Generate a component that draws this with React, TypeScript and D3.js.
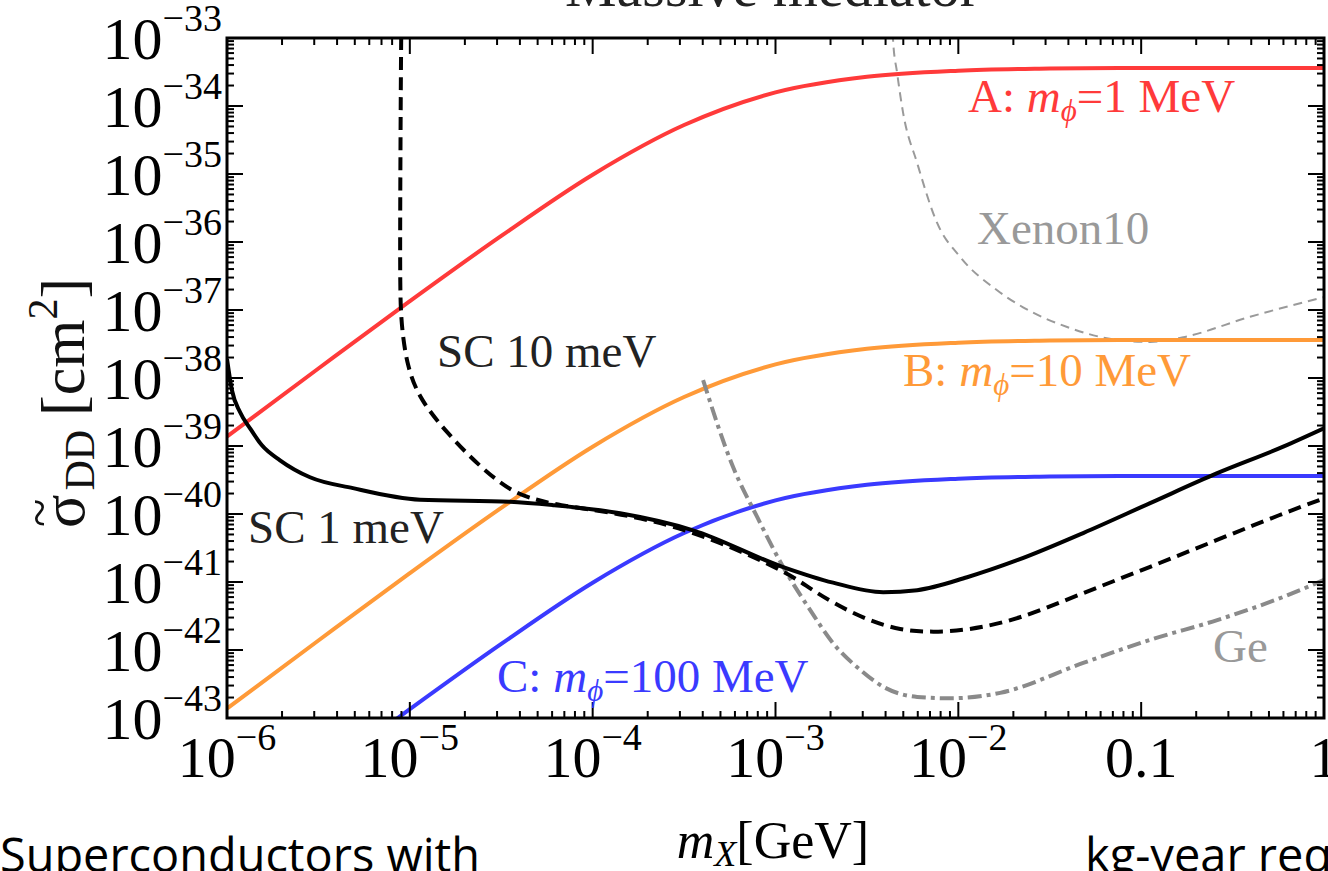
import React from "react";
import * as d3 from "d3";

// log10 values
const massExp = [-6, -5.5, -5, -4.5, -4, -3.5, -3, -2.5, -2, -1.5, -1, 0];
const sigmaA = [-38.86, -37.86, -36.87, -35.91, -35.01, -34.28, -33.8, -33.57, -33.48, -33.45, -33.44, -33.44];
const sigmaB = [-42.86, -41.86, -40.87, -39.91, -39.01, -38.28, -37.8, -37.57, -37.48, -37.45, -37.44, -37.44];
const sigmaC = [-44.86, -43.86, -42.87, -41.91, -41.01, -40.28, -39.8, -39.57, -39.48, -39.45, -39.44, -39.44];

const sc1Mass = [-6.0, -5.973, -5.929, -5.874, -5.809, -5.71, -5.546, -5.311, -4.944, -4.452, -4.217, -3.85, -3.451, -2.958, -2.685, -2.411, -2.225, -1.952, -1.678, -1.317, -0.951, -0.584, -0.223, 0.0];
const sc1Sigma = [-37.72, -38.18, -38.5, -38.74, -38.99, -39.21, -39.46, -39.62, -39.79, -39.82, -39.87, -39.99, -40.24, -40.78, -41.01, -41.15, -41.12, -40.93, -40.68, -40.28, -39.84, -39.4, -39.01, -38.74];

const sc10Mass = [-5.044, -5.048, -5.052, -5.054, -5.048, -5.015, -4.944, -4.796, -4.616, -4.435, -4.304, -4.217, -3.85, -3.451, -2.958, -2.82, -2.685, -2.499, -2.318, -2.138, -1.952, -1.678, -1.317, -0.951, -0.584, -0.223, 0.0];
const sc10Sigma = [-32.4, -33.0, -35.0, -36.6, -37.2, -37.84, -38.32, -38.81, -39.31, -39.69, -39.79, -39.86, -39.99, -40.24, -40.82, -41.08, -41.31, -41.56, -41.71, -41.74, -41.71, -41.56, -41.16, -40.78, -40.38, -39.99, -39.77];

const geMass = [-3.396, -3.232, -3.101, -2.958, -2.811, -2.685, -2.537, -2.411, -2.225, -2.045, -1.771, -1.317, -0.951, -0.584, -0.223, 0.0];
const geSigma = [-38.03, -39.31, -40.04, -40.78, -41.41, -41.9, -42.29, -42.54, -42.69, -42.71, -42.63, -42.19, -41.85, -41.56, -41.22, -40.97];

const xenonMass = [-2.362, -2.357, -2.335, -2.302, -2.225, -2.116, -1.99, -1.788, -1.646, -1.405, -1.131, -0.951, -0.77, -0.404, 0.0];
const xenonSigma = [-32.7, -33.03, -33.51, -34.1, -34.84, -35.72, -36.22, -36.71, -36.96, -37.25, -37.44, -37.47, -37.4, -37.1, -36.81];

const xTickExp = [-6, -5, -4, -3, -2, -1, 0];
const xTickText = ["10|−6", "10|−5", "10|−4", "10|−3", "10|−2", "0.1", "1"];
const yTickExp = [-33, -34, -35, -36, -37, -38, -39, -40, -41, -42, -43];

const W = 1328;
const H = 871;
const left = 227, right = 1324, top = 38, bottom = 718;
const serif = "'Liberation Serif', 'Times New Roman', serif";
const comic = "'Comic Sans MS', 'Open Sans', sans-serif";

const x = d3.scaleLog().domain([1e-6, 1]).range([left, right]);
const y = d3.scaleLog().domain([1e-43, 1e-33]).range([bottom, top]);

const makeLine = (curve: d3.CurveFactory) =>
  d3
    .line<[number, number]>()
    .x((d) => x(Math.pow(10, d[0])))
    .y((d) => y(Math.pow(10, d[1])))
    .curve(curve);

const smooth = makeLine(d3.curveMonotoneX);
const bent = makeLine(d3.curveBasis);

const pairs = (a: number[], b: number[]) => a.map((v, i) => [v, b[i]] as [number, number]);

function minorTicks(lo: number, hi: number) {
  const out: number[] = [];
  for (let e = lo; e < hi; e++) {
    for (let j = 2; j <= 9; j++) out.push(j * Math.pow(10, e));
  }
  return out;
}

function PhiLabel({ x0, y0, color, head, tail }: { x0: number; y0: number; color: string; head: string; tail: string }) {
  return (
    <text x={x0} y={y0} fill={color}>
      {head}
      <tspan fontStyle="italic">m</tspan>
      <tspan fontStyle="italic" fontSize={31} dy={9}>ϕ</tspan>
      <tspan dy={-9}>{tail}</tspan>
    </text>
  );
}

export default function App() {
  const xMinor = minorTicks(-6, 0);
  const yMinor = minorTicks(-43, -33);
  const major = 16;
  const minor = 7;

  return (
    <div style={{ position: "absolute", left: 0, top: 0 }}>
      <style>{`body{margin:0}`}</style>
      <svg width={W} height={H} style={{ display: "block", background: "#fff" }}>
        <defs>
          <clipPath id="plot">
            <rect x={left} y={top} width={right - left} height={bottom - top} />
          </clipPath>
        </defs>

        {/* title, mostly cut off at the top */}
        <text x={772} y={6} fontFamily={serif} fontSize={58} textAnchor="middle" fill="#222">
          Massive mediator
        </text>

        <g clipPath="url(#plot)" fill="none" strokeLinejoin="round">
          <path d={smooth(pairs(xenonMass, xenonSigma)) || ""} stroke="#9a9a9a" strokeWidth={2} strokeDasharray="9,6" />
          <path d={smooth(pairs(massExp, sigmaA)) || ""} stroke="#ff3a3a" strokeWidth={4} />
          <path d={smooth(pairs(massExp, sigmaB)) || ""} stroke="#ff9a38" strokeWidth={4} />
          <path d={smooth(pairs(massExp, sigmaC)) || ""} stroke="#3a3aff" strokeWidth={4} />
          <path d={smooth(pairs(geMass, geSigma)) || ""} stroke="#8a8a8a" strokeWidth={4} strokeDasharray="14,5,4,5" />
          <path d={bent(pairs(sc10Mass, sc10Sigma)) || ""} stroke="#000" strokeWidth={4} strokeDasharray="13,7" />
          <path d={smooth(pairs(sc1Mass, sc1Sigma)) || ""} stroke="#000" strokeWidth={4} />
        </g>

        {/* frame and ticks */}
        <g stroke="#000" strokeWidth={2}>
          {xTickExp.map((e) => (
            <g key={"xm" + e}>
              <line x1={x(Math.pow(10, e))} x2={x(Math.pow(10, e))} y1={bottom} y2={bottom - major} />
              <line x1={x(Math.pow(10, e))} x2={x(Math.pow(10, e))} y1={top} y2={top + major} />
            </g>
          ))}
          {xMinor.map((v, i) => (
            <g key={"xn" + i}>
              <line x1={x(v)} x2={x(v)} y1={bottom} y2={bottom - minor} />
              <line x1={x(v)} x2={x(v)} y1={top} y2={top + minor} />
            </g>
          ))}
          {yTickExp.map((e) => (
            <g key={"ym" + e}>
              <line x1={left} x2={left + major} y1={y(Math.pow(10, e))} y2={y(Math.pow(10, e))} />
              <line x1={right} x2={right - major} y1={y(Math.pow(10, e))} y2={y(Math.pow(10, e))} />
            </g>
          ))}
          {yMinor.map((v, i) => (
            <g key={"yn" + i}>
              <line x1={left} x2={left + minor} y1={y(v)} y2={y(v)} />
              <line x1={right} x2={right - minor} y1={y(v)} y2={y(v)} />
            </g>
          ))}
          <rect x={left} y={top} width={right - left} height={bottom - top} fill="none" strokeWidth={3} />
        </g>

        {/* tick labels */}
        <g fontFamily={serif} fill="#000">
          {yTickExp.map((e) => (
            <text key={"yl" + e} x={222} y={y(Math.pow(10, e)) + 21} textAnchor="end" fontSize={60}>
              10
              <tspan fontSize={38} dy={-28}>
                {"−" + Math.abs(e)}
              </tspan>
            </text>
          ))}
          {xTickExp.map((e, i) => {
            const parts = xTickText[i].split("|");
            return (
              <text key={"xl" + e} x={x(Math.pow(10, e))} y={777} textAnchor="middle" fontSize={58}>
                {parts[0]}
                {parts[1] && (
                  <tspan fontSize={38} dy={-27}>
                    {parts[1]}
                  </tspan>
                )}
              </text>
            );
          })}
        </g>

        {/* axis titles */}
        <g transform="translate(84,378) rotate(-90)" fontFamily={serif} fontSize={62} fill="#111">
          <text x={-150} y={0}>
            σ
            <tspan fontSize={42} dx={4} dy={10}>DD</tspan>
            <tspan dx={14} dy={-10}>[cm</tspan>
            <tspan fontSize={42} dy={-27}>2</tspan>
            <tspan dy={27}>]</tspan>
          </text>
          <text x={-149} y={-27} fontSize={52}>~</text>
        </g>
        <text x={773} y={858} textAnchor="middle" fontFamily={serif} fontSize={52}>
          <tspan fontStyle="italic">m</tspan>
          <tspan fontStyle="italic" fontSize={36} dy={8}>X</tspan>
          <tspan dy={-8}>[GeV]</tspan>
        </text>

        {/* curve labels */}
        <g fontFamily={serif} fontSize={47}>
          <PhiLabel x0={968} y0={112} color="#ff3a3a" head="A: " tail="=1 MeV" />
          <PhiLabel x0={903} y0={386} color="#ff9a38" head="B: " tail="=10 MeV" />
          <PhiLabel x0={497} y0={692} color="#3a3aff" head="C: " tail="=100 MeV" />
          <text x={437} y={367} fill="#222">SC 10 meV</text>
          <text x={248} y={543} fill="#222">SC 1 meV</text>
          <text x={977} y={244} fill="#999">Xenon10</text>
          <text x={1213} y={662} fill="#999">Ge</text>
        </g>

        {/* slide text around the chart */}
        <text x={0} y={872} fontFamily={comic} fontSize={47} fill="#000" textLength={480} lengthAdjust="spacingAndGlyphs">
          Superconductors with
        </text>
        <text x={1085} y={872} fontFamily={comic} fontSize={47} fill="#000">
          kg-year required
        </text>
      </svg>
    </div>
  );
}
